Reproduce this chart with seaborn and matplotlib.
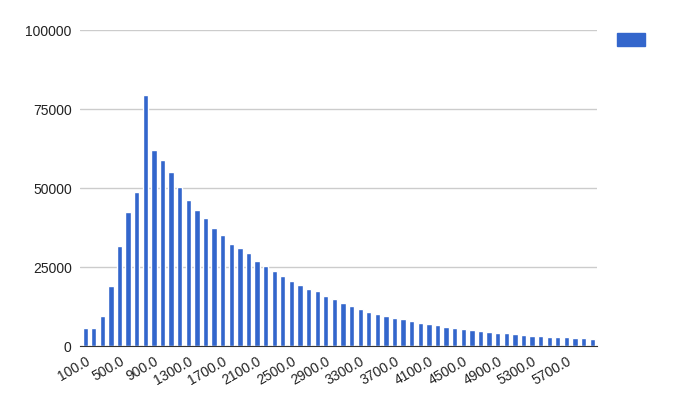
import matplotlib
matplotlib.use("Agg")
import matplotlib.pyplot as plt
from matplotlib.patches import Patch
import seaborn as sns
import pandas as pd

# data
categories = [f"{v:.1f}" for v in range(100, 6100, 100)]
counts = [5670, 5880, 9660, 19100, 31800, 42400, 48700, 79400, 62000, 58800,
          55000, 50300, 46200, 43100, 40500, 37400, 35200, 32400, 31100, 29500,
          27000, 25400, 23800, 22300, 20700, 19400, 18200, 17300, 16000, 14800,
          13700, 12800, 11800, 10900, 10200, 9600, 9000, 8650, 8000, 7400,
          7100, 6750, 6100, 5800, 5500, 5200, 4850, 4500, 4200, 4200,
          3900, 3600, 3300, 3300, 2950, 2950, 2950, 2650, 2650, 2300]
yticks = [0, 25000, 50000, 75000, 100000]

df = pd.DataFrame({"bin": categories, "count": counts})

sns.set_style("white")
plt.rcParams['font.family'] = ['Liberation Sans', 'DejaVu Sans']
fig = plt.figure(figsize=(6.87, 4.18), dpi=100)
ax = fig.add_axes([0.1165, 0.172, 0.753, 0.756])
sns.barplot(data=df, x="bin", y="count", color="#3366cc", saturation=1,
            width=0.62, ax=ax)
ax.set_xlim(-0.6, len(categories) - 0.4)
ax.set_ylim(0, 100000)
ax.set_yticks(yticks)
ax.set_yticklabels([str(t) for t in yticks], fontsize=10, color="#222222")
ax.yaxis.grid(True, color="#cccccc", linewidth=1)
ax.set_axisbelow(True)
ax.set_xticks(range(0, len(categories), 4))
ax.set_xticklabels(categories[::4], rotation=30, ha="right", fontsize=10,
                   color="#222222", rotation_mode="anchor")
ax.tick_params(axis="both", length=0, pad=6)
ax.set_xlabel("")
ax.set_ylabel("")
for s in ["top", "right", "left"]:
    ax.spines[s].set_visible(False)
ax.spines["bottom"].set_color("#333333")
fig.legend(handles=[Patch(color="#3366cc")], labels=[""], loc="upper left",
           bbox_to_anchor=(0.88, 0.95), frameon=False, handlelength=2.0,
           handleheight=1.0)
fig.savefig("out.png", dpi=100)
